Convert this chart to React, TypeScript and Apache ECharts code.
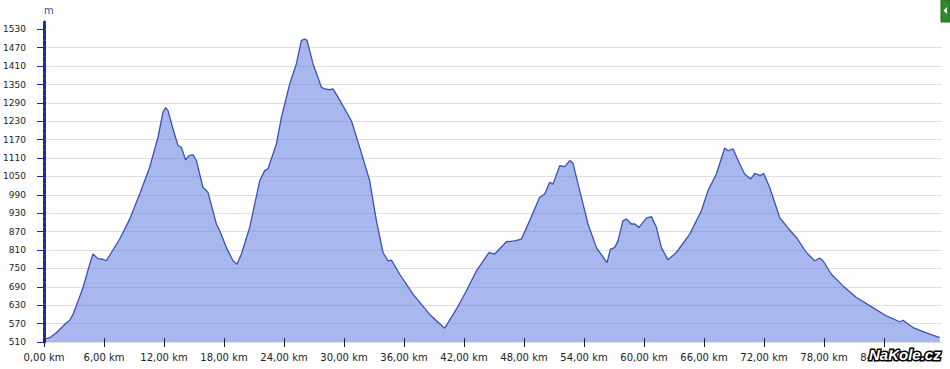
import React, { useEffect, useRef } from "react";
import * as echarts from "echarts";

// Distance along the route (km) and elevation (m)
const distanceKm = [
  0, 0.57, 1.24, 2.24, 2.57, 2.9, 3.9, 4.57, 4.9, 5.4, 5.9, 6.24, 6.74, 7.57, 8.57, 9.57, 10.57, 11.4, 11.9, 12.17,
  12.4, 12.9, 13.4, 13.74, 14.17, 14.5, 14.9, 15.24, 15.9, 16.24, 16.4, 17.24, 17.57, 18.24, 18.9, 19.3, 19.74, 20.57,
  21.57, 22.07, 22.4, 23.24, 23.74, 24.57, 25.24, 25.74, 26.07, 26.3, 26.9, 27.74, 28.07, 28.57, 28.9, 29.5, 30.74,
  31.57, 32.57, 33.24, 33.9, 34.4, 34.74, 35.57, 36.9, 38.57, 40.07, 41.24, 42.24, 43.24, 44.5, 45.07, 46.24, 47.07,
  47.74, 48.57, 49.57, 50.07, 50.57, 50.9, 51.57, 52.07, 52.57, 52.9, 53.57, 54.4, 55.24, 56.3, 56.64, 57.07, 57.4,
  57.9, 58.24, 58.74, 59.07, 59.5, 60.24, 60.74, 61.24, 61.74, 62.4, 63.24, 64.57, 65.74, 66.4, 67.24, 68.07, 68.4,
  68.9, 69.57, 70.07, 70.67, 71.07, 71.64, 71.97, 72.57, 73.57, 74.5, 75.24, 76.24, 77.07, 77.57, 77.9, 78.74, 79.9,
  81.24, 82.9, 84.24, 85.57, 85.9, 86.9, 88.24, 89.57,
];
const elevationM = [
  519, 524, 540, 573, 581, 600, 687, 764, 797, 782, 780, 775, 802, 846, 911, 993, 1080, 1178, 1260, 1275,
  1265, 1205, 1151, 1145, 1104, 1118, 1121, 1102, 1014, 1004, 998, 895, 873, 818, 775, 764, 797, 884,
  1036, 1069, 1075, 1156, 1243, 1352, 1418, 1494, 1498, 1494, 1418, 1341, 1336, 1333, 1336, 1303, 1232,
  1145, 1036, 906, 802, 775, 777, 731, 666, 600, 555, 617, 677, 742, 802, 797, 837, 840,
  846, 906, 982, 993, 1031, 1025, 1085, 1082, 1102, 1093, 1004, 895, 818, 769, 813, 818, 840,
  906, 911, 895, 895, 884, 914, 919, 884, 818, 778, 802, 862, 938, 1004, 1058, 1143, 1134,
  1140, 1091, 1058, 1042, 1060, 1053, 1060, 1014, 916, 878, 851, 802, 775, 784, 775, 731, 693,
  655, 622, 595, 576, 581, 557, 540, 524,
];

const ELEV_BASE = 510; // lowest tick label
const yTickLabels = [510, 570, 630, 690, 750, 810, 870, 930, 990, 1050, 1110, 1170, 1230, 1290, 1350, 1410, 1470, 1530];
const xTickKm = [0, 6, 12, 18, 24, 30, 36, 42, 48, 54, 60, 66, 72, 78, 84];

const FONT = "'DejaVu Sans', Verdana, sans-serif";

export default function App() {
  const ref = useRef<HTMLDivElement>(null);
  useEffect(() => {
    if (!ref.current) return;
    const chart = echarts.init(ref.current, undefined, { renderer: "svg" });
    const data = distanceKm.map((d, i) => [d, elevationM[i] - ELEV_BASE]);
    const yOffsets = yTickLabels.map((v) => v - ELEV_BASE);
    chart.setOption({
      animation: false,
      grid: { left: 44, right: 8, top: 22, bottom: 27 },
      xAxis: [
        {
          type: "value",
          min: 0,
          max: 89.8,
          interval: 6,
          axisLine: { show: false },
          axisTick: { show: true, length: 5, customValues: xTickKm, lineStyle: { color: "#222", width: 1 } },
          axisLabel: {
            customValues: xTickKm,
            formatter: (v: number) => v.toFixed(2).replace(".", ",") + " km",
            margin: 10,
            fontSize: 10,
            fontFamily: FONT,
            color: "#222",
          },
          splitLine: { show: false },
        },
        {
          type: "value",
          min: 0,
          max: 89.8,
          interval: 6,
          position: "bottom",
          z: 5,
          axisLine: { show: false },
          axisTick: { show: true, inside: true, length: 4, customValues: xTickKm, lineStyle: { color: "#222", width: 1 } },
          axisLabel: { show: false },
          splitLine: { show: false },
        },
      ],
      yAxis: [
        {
          type: "value",
          min: 0,
          max: 1044,
          interval: 60,
          position: "left",
          name: "m",
          nameLocation: "end",
          nameGap: 7,
          nameTextStyle: { fontFamily: FONT, fontSize: 10, color: "#3a4f8f", align: "left" },
          axisLine: { show: false },
          axisTick: { show: true, length: 7, customValues: yOffsets, lineStyle: { color: "#1b2b96", width: 1 } },
          axisLabel: {
            customValues: yOffsets,
            formatter: (v: number) => String(v + ELEV_BASE),
            margin: 18,
            fontSize: 9,
            fontFamily: FONT,
            color: "#222",
          },
          splitLine: { show: true, showMaxLine: false, lineStyle: { color: "#e0e0e0", width: 1 } },
        },
        {
          type: "value",
          min: 0,
          max: 1044,
          interval: 60,
          position: "left",
          z: 5,
          axisLine: { show: true, onZero: false, lineStyle: { color: "#1b2b96", width: 3, type: [4, 1.5] } },
          axisTick: { show: false },
          axisLabel: { show: false },
          splitLine: { show: false },
        },
      ],
      series: [
        {
          type: "line",
          data,
          showSymbol: false,
          symbol: "none",
          smooth: false,
          lineStyle: { color: "#3d52b2", width: 1.3 },
          areaStyle: { color: "rgb(82,112,222)", opacity: 0.5 },
        },
      ],
      graphic: [
        { type: "rect", z: 100, shape: { x: 941, y: 0, width: 9, height: 22 }, style: { fill: "#2d8a2d", stroke: "#1f6a1f", lineWidth: 1 } },
        { type: "polygon", z: 101, shape: { points: [[947, 7], [947, 14], [943.5, 10.5]] }, style: { fill: "#ffffff" } },
        {
          type: "text",
          z: 100,
          x: 869,
          y: 347,
          style: {
            text: "NaKole.cz",
            font: "italic bold 15px 'Liberation Sans', Arial, sans-serif",
            fill: "#ffffff",
            stroke: "#000000",
            lineWidth: 3,
            verticalAlign: "top",
          },
        },
      ],
    });
    return () => chart.dispose();
  }, []);
  return <div ref={ref} style={{ width: 950, height: 369, position: "absolute", left: 0, top: 0 }} />;
}
